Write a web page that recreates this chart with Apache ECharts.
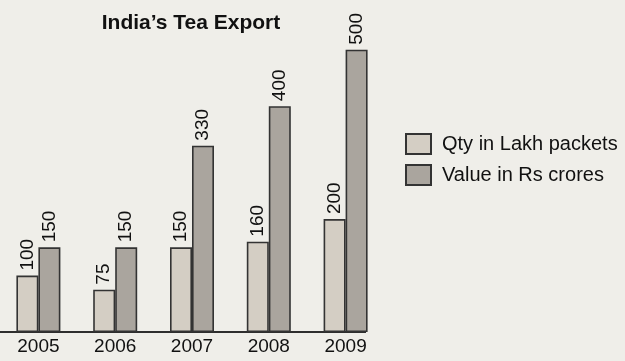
<!DOCTYPE html>
<html><head><meta charset="utf-8">
<script src="https://cdn.jsdelivr.net/npm/echarts@6/dist/echarts.min.js"></script>
<style>html,body{margin:0;padding:0;background:#efeee9;}#c{width:625px;height:361px;}</style>
</head><body><div id="c"></div>
<script>
var years = ['2005', '2006', '2007', '2008', '2009'];
var qtyLakhPackets = [100, 75, 150, 160, 200];
var valueRsCrores = [150, 150, 330, 400, 500];
var seriesNames = ['Qty in Lakh packets', 'Value in Rs crores'];
var chartTitle = 'India\u2019s Tea Export';

var chart = echarts.init(document.getElementById('c'), null, {renderer: 'canvas'});
var font = 'Liberation Sans, Arial, sans-serif';
var labelCfg = {
  show: true, position: 'top', rotate: 90, align: 'left', verticalAlign: 'middle',
  distance: 5, color: '#111', fontSize: 19, fontFamily: font
};
chart.setOption({
  backgroundColor: '#efeee9',
  animation: false,
  title: {
    text: chartTitle, left: 186, textAlign: 'center', top: 8,
    textStyle: {fontSize: 21, fontWeight: 'bold', color: '#111', fontFamily: font}
  },
  legend: {
    orient: 'vertical', left: 405, top: 133, padding: 0, itemWidth: 25, itemHeight: 20, itemGap: 9,
    icon: 'rect',
    textStyle: {fontSize: 20, color: '#111', fontFamily: font, padding: [0, 0, 0, 6]},
    data: seriesNames
  },
  grid: {left: -1, width: 385, top: 13, bottom: 29, containLabel: false},
  xAxis: {
    type: 'category', data: years,
    axisLine: {show: false}, axisTick: {show: false},
    axisLabel: {fontSize: 19, color: '#111', margin: 5, fontFamily: font}
  },
  yAxis: {type: 'value', min: 0, max: 565, show: false, splitLine: {show: false}},
  graphic: [{
    type: 'line', shape: {x1: 0, y1: 332, x2: 366, y2: 332},
    style: {stroke: '#2e2e2e', lineWidth: 2}
  }],
  series: [
    {
      name: seriesNames[0], type: 'bar', data: qtyLakhPackets, barWidth: 22, barGap: '0%',
      itemStyle: {color: '#d4cec4', borderColor: '#333', borderWidth: 1.6},
      label: labelCfg
    },
    {
      name: seriesNames[1], type: 'bar', data: valueRsCrores, barWidth: 22,
      itemStyle: {color: '#aaa59e', borderColor: '#333', borderWidth: 1.6},
      label: labelCfg
    }
  ]
});
</script></body></html>
